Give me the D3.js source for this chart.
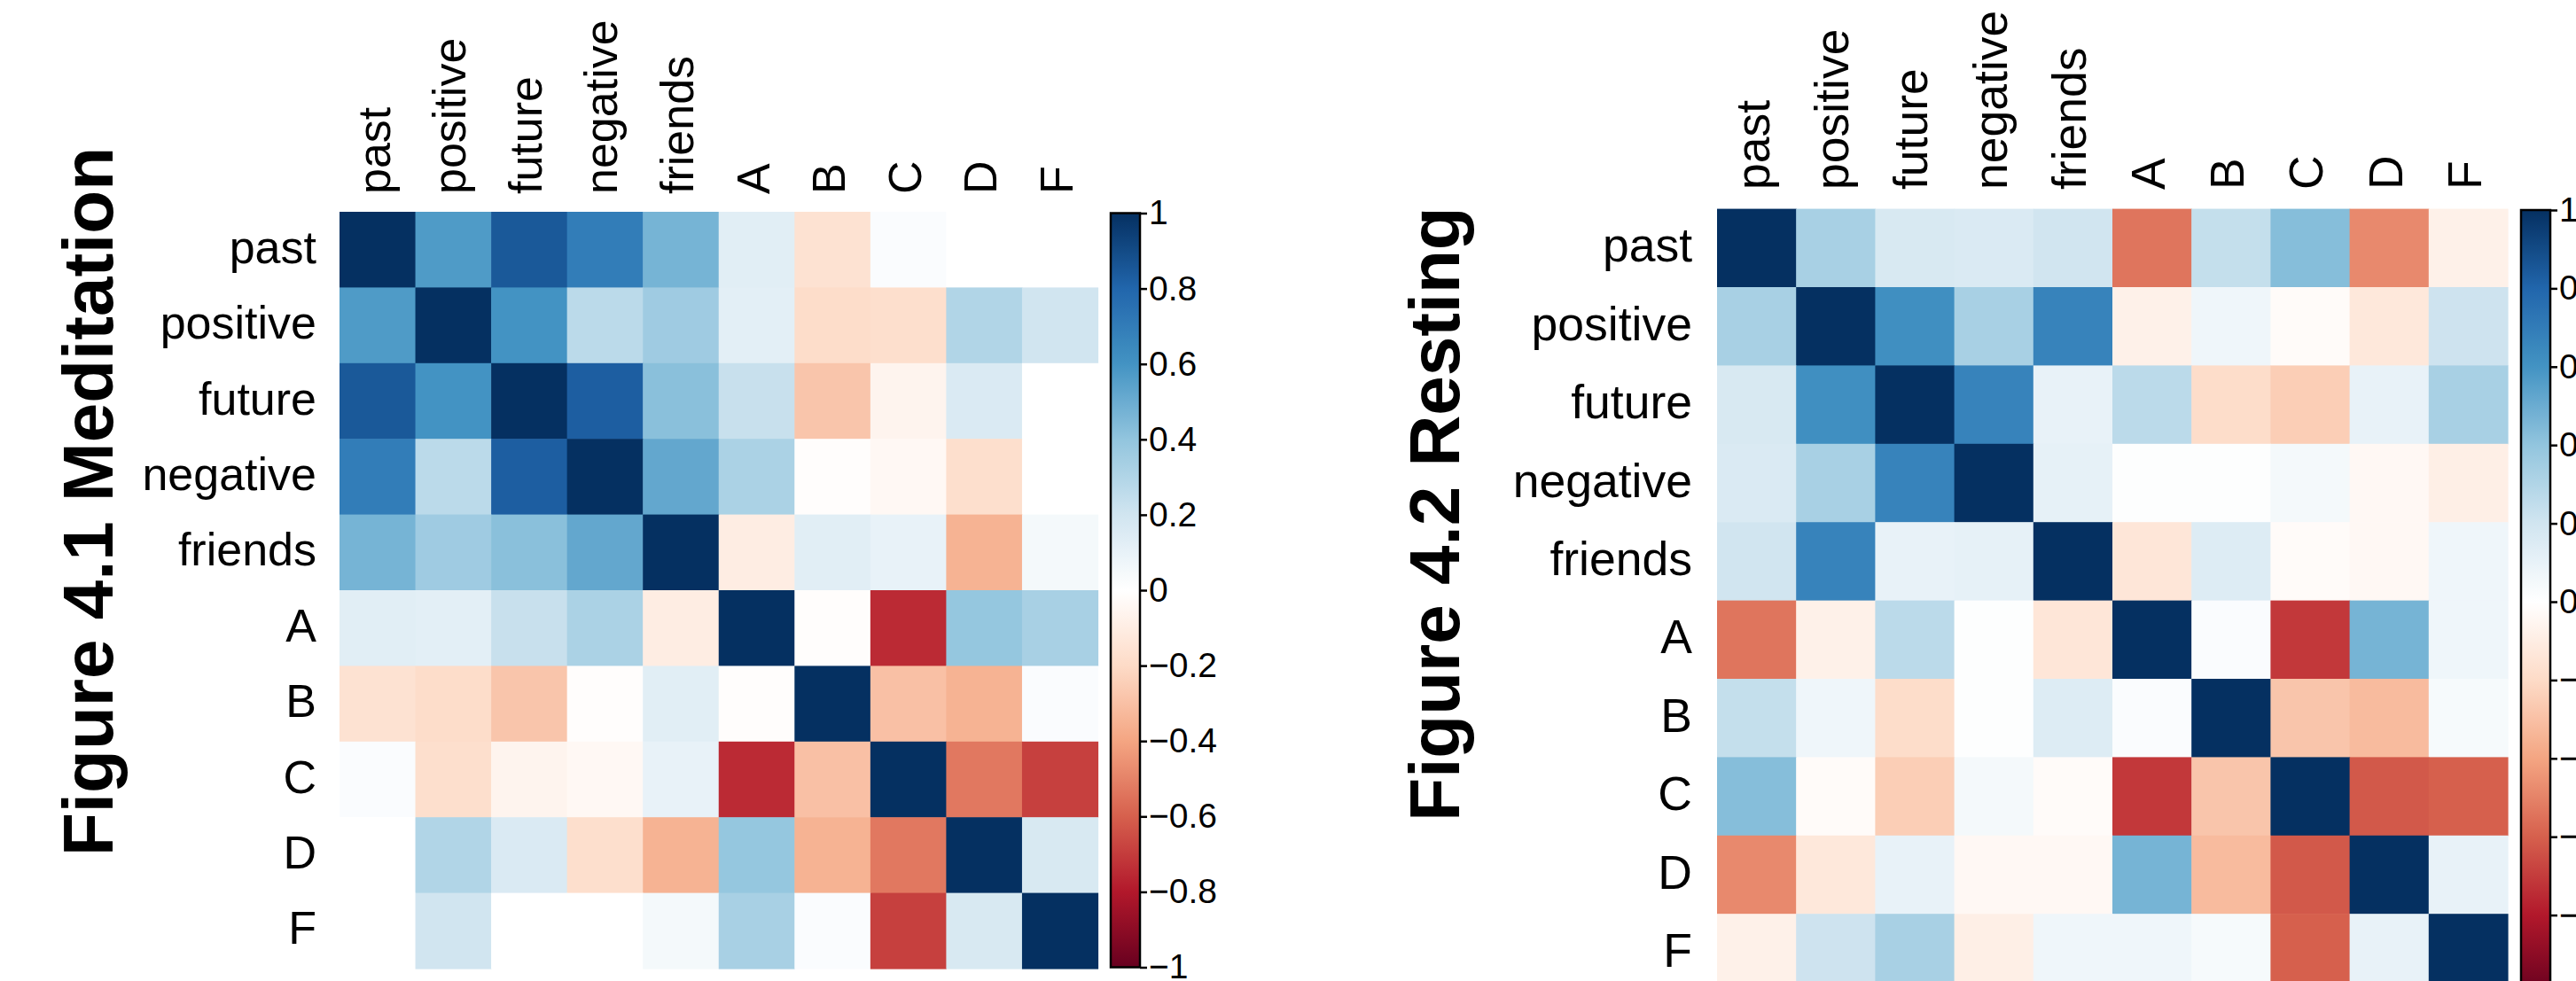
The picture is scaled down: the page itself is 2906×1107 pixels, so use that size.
<!DOCTYPE html>
<html>
<head>
<meta charset="utf-8">
<script src="https://cdn.jsdelivr.net/npm/d3@7"></script>
<style>
  body { margin: 0; background: #ffffff; }
  text { font-family: "Liberation Sans", Arial, Helvetica, sans-serif; fill: #000; }
</style>
</head>
<body>
<svg id="chart" width="2906" height="1107"></svg>
<script>
// variable names, same order for rows and columns
var vars = ["past", "positive", "future", "negative", "friends", "A", "B", "C", "D", "F"];

// correlation matrix (meditation), one array per row
var meditation = [
  [ 1.00,  0.57,  0.85,  0.70,  0.47,  0.13, -0.16,  0.02,  0.00,  0.00],
  [ 0.57,  1.00,  0.60,  0.27,  0.36,  0.12, -0.19, -0.18,  0.30,  0.20],
  [ 0.85,  0.60,  1.00,  0.83,  0.42,  0.23, -0.28, -0.06,  0.16,  0.00],
  [ 0.70,  0.27,  0.83,  1.00,  0.52,  0.32, -0.01, -0.04, -0.18,  0.00],
  [ 0.47,  0.36,  0.42,  0.52,  1.00, -0.10,  0.13,  0.10, -0.35,  0.05],
  [ 0.13,  0.12,  0.23,  0.32, -0.10,  1.00, -0.01, -0.75,  0.39,  0.33],
  [-0.16, -0.19, -0.28, -0.01,  0.13, -0.01,  1.00, -0.30, -0.35,  0.02],
  [ 0.02, -0.18, -0.06, -0.04,  0.10, -0.75, -0.30,  1.00, -0.53, -0.69],
  [ 0.00,  0.30,  0.16, -0.18, -0.35,  0.39, -0.35, -0.53,  1.00,  0.17],
  [ 0.00,  0.20,  0.00,  0.00,  0.05,  0.33,  0.02, -0.69,  0.17,  1.00]
];

// correlation matrix (resting)
var resting = [
  [ 1.00,  0.33,  0.17,  0.16,  0.20, -0.54,  0.24,  0.43, -0.48, -0.08],
  [ 0.33,  1.00,  0.62,  0.33,  0.67, -0.08,  0.07, -0.02, -0.13,  0.21],
  [ 0.17,  0.62,  1.00,  0.67,  0.10,  0.27, -0.19, -0.25,  0.10,  0.33],
  [ 0.16,  0.33,  0.67,  1.00,  0.11,  0.01,  0.01,  0.05, -0.04, -0.09],
  [ 0.20,  0.67,  0.10,  0.11,  1.00, -0.14,  0.15, -0.02, -0.04,  0.07],
  [-0.54, -0.08,  0.27,  0.01, -0.14,  1.00,  0.02, -0.71,  0.47,  0.07],
  [ 0.24,  0.07, -0.19,  0.01,  0.15,  0.02,  1.00, -0.28, -0.32,  0.04],
  [ 0.43, -0.02, -0.25,  0.05, -0.02, -0.71, -0.28,  1.00, -0.62, -0.60],
  [-0.48, -0.13,  0.10, -0.04, -0.04,  0.47, -0.32, -0.62,  1.00,  0.10],
  [-0.08,  0.21,  0.33, -0.09,  0.07,  0.07,  0.04, -0.60,  0.10,  1.00]
];

// colour bar ticks
var barTicks = [1, 0.8, 0.6, 0.4, 0.2, 0, -0.2, -0.4, -0.6, -0.8, -1];

// RdBu palette used by corrplot, from -1 to 1
var rdbu = ["#67001F", "#B2182B", "#D6604D", "#F4A582", "#FDDBC7", "#FFFFFF",
            "#D1E5F0", "#92C5DE", "#4393C3", "#2166AC", "#053061"];

var svg = d3.select("#chart");

var color = d3.scaleLinear()
    .domain(d3.range(rdbu.length).map(function(i) { return -1 + 2 * i / (rdbu.length - 1); }))
    .range(rdbu)
    .interpolate(d3.interpolateRgb);

// draws one correlation plot: title, labels, cells and colour bar
function drawPanel(p) {
    var g = svg.append("g");

    var x = d3.scaleBand().domain(vars).range([p.left, p.left + p.cellW * vars.length]);
    var y = d3.scaleBand().domain(vars).range([p.top, p.top + p.cellH * vars.length]);

    // cells
    vars.forEach(function(rv, i) {
        g.selectAll(null)
          .data(p.data[i])
          .enter().append("rect")
          .attr("x", function(d, j) { return x(vars[j]); })
          .attr("y", y(rv))
          .attr("width", x.bandwidth() + 0.6)
          .attr("height", y.bandwidth() + 0.6)
          .attr("fill", function(d) { return color(d); });
    });

    // row labels
    g.selectAll("text.row")
      .data(vars)
      .enter().append("text")
      .attr("class", "row")
      .attr("x", p.rowLabelX)
      .attr("y", function(d) { return y(d) + y.bandwidth() / 2; })
      .attr("dy", "0.29em")
      .attr("text-anchor", "end")
      .style("font-size", p.labelSize + "px")
      .text(function(d) { return d; });

    // column labels, rotated
    g.selectAll("text.col")
      .data(vars)
      .enter().append("text")
      .attr("class", "col")
      .attr("transform", function(d) {
          return "translate(" + (x(d) + x.bandwidth() / 2) + "," + p.colLabelY + ") rotate(-90)";
      })
      .attr("dy", "0.27em")
      .attr("text-anchor", "start")
      .style("font-size", p.labelSize + "px")
      .text(function(d) { return d; });

    // title, rotated
    g.append("text")
      .attr("transform", "translate(" + p.titleX + "," + p.titleY + ") rotate(-90)")
      .attr("text-anchor", "middle")
      .style("font-size", "80px")
      .style("font-weight", "bold")
      .text(p.title);

    // colour bar
    var cb = d3.scaleLinear().domain([-1, 1]).range([p.barBottom, p.barTop]);
    var grad = svg.append("defs").append("linearGradient")
      .attr("id", p.id + "grad")
      .attr("x1", 0).attr("y1", 1).attr("x2", 0).attr("y2", 0);
    grad.selectAll("stop")
      .data(d3.range(-1, 1.0001, 0.05))
      .enter().append("stop")
      .attr("offset", function(d) { return (d + 1) / 2; })
      .attr("stop-color", function(d) { return color(d); });

    g.append("rect")
      .attr("x", p.barX)
      .attr("y", p.barTop)
      .attr("width", p.barW)
      .attr("height", p.barBottom - p.barTop)
      .attr("fill", "url(#" + p.id + "grad)")
      .attr("stroke", "#000")
      .attr("stroke-width", 2.5);

    var axis = d3.axisRight(cb)
      .tickValues(barTicks)
      .tickSize(8)
      .tickPadding(2)
      .tickFormat(d3.format("~g"));

    var ag = g.append("g")
      .attr("transform", "translate(" + (p.barX + p.barW) + ",0)")
      .call(axis);
    ag.select(".domain").remove();
    ag.selectAll(".tick line").attr("stroke", "#000").attr("stroke-width", 2.5);
    ag.selectAll(".tick text")
      .attr("fill", "#000")
      .style("font-size", "39px")
      .style("font-family", "'Liberation Sans', Arial, Helvetica, sans-serif");
}

drawPanel({
    id: "med", data: meditation, title: "Figure 4.1 Meditation",
    left: 383, top: 239, cellW: 85.55, cellH: 85.4,
    rowLabelX: 357, colLabelY: 219, labelSize: 52,
    titleX: 127, titleY: 566,
    barX: 1253, barW: 33, barTop: 240.5, barBottom: 1091.5
});

drawPanel({
    id: "rest", data: resting, title: "Figure 4.2 Resting",
    left: 1937, top: 235.6, cellW: 89.2, cellH: 88.4,
    rowLabelX: 1909, colLabelY: 214, labelSize: 53.5,
    titleX: 1646, titleY: 580,
    barX: 2844, barW: 33, barTop: 237, barBottom: 1121
});
</script>
</body>
</html>
